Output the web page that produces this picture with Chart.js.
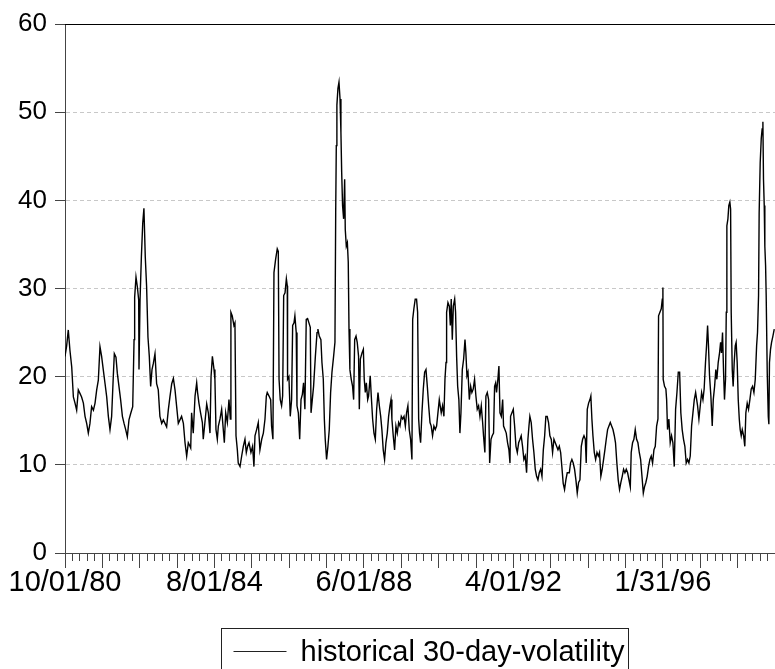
<!DOCTYPE html>
<html>
<head>
<meta charset="utf-8">
<script src="https://cdn.jsdelivr.net/npm/chart.js@4"></script>
<style>
  html, body { margin: 0; padding: 0; background: #fff; }
</style>
</head>
<body>
<canvas id="volChart" width="775" height="669"></canvas>
<script>
const obsNumber = [
  0, 11, 22, 33, 45, 56, 67, 78, 89, 100, 111, 123, 134, 145, 156, 167, 178, 190, 201, 212,
  223, 234, 245, 256, 268, 279, 290, 301, 312, 323, 330, 341, 350, 361, 372, 384, 395, 406, 417, 428,
  439, 453, 462, 466, 475, 484, 493, 495, 502, 511, 520, 528, 537, 546, 555, 564, 573, 582, 591, 602,
  613, 624, 635, 647, 658, 669, 680, 691, 702, 714, 725, 736, 747, 758, 769, 780, 792, 803, 814, 825, 836,
  841, 847, 858, 870, 881, 887, 896, 907, 919, 925, 936, 948, 959, 970, 977, 986, 997, 1003, 1010, 1019,
  1026, 1037, 1048, 1057, 1066, 1075, 1086, 1097, 1106, 1110, 1119, 1130, 1137, 1144, 1153, 1159, 1171, 1182, 1193, 1204,
  1213, 1222, 1231, 1244, 1255, 1264, 1271, 1282, 1293, 1304, 1316, 1327, 1338, 1347, 1353, 1365, 1376, 1382, 1391, 1398,
  1409, 1420, 1427, 1432, 1440, 1449, 1456, 1463, 1472, 1481, 1487, 1489, 1498, 1507, 1516, 1523, 1532, 1538, 1547, 1552,
  1561, 1570, 1579, 1588, 1596, 1605, 1614, 1623, 1632, 1641, 1646,
  1663, 1675, 1686, 1692, 1701, 1712, 1719, 1728, 1735, 1741, 1750, 1759, 1768, 1777, 1786, 1797, 1806, 1811, 1815, 1819,
  1826, 1833, 1840, 1846, 1851, 1857, 1864, 1871, 1875, 1882, 1889, 1895, 1900, 1906, 1915, 1924, 1931, 1938, 1947, 1955,
  1964, 1969, 1976, 1987, 1996, 2002, 2009, 2016, 2025, 2031, 2042, 2049, 2058, 2067, 2076, 2085, 2094, 2103, 2112, 2120,
  2129, 2138, 2147, 2156, 2165, 2174, 2181, 2187, 2196, 2205, 2214, 2223, 2232, 2241, 2250, 2259, 2268, 2277, 2285, 2294,
  2303, 2312, 2321, 2326, 2334, 2343, 2352, 2359, 2366, 2372, 2379, 2388, 2397, 2406, 2415, 2424, 2433, 2442, 2450, 2459,
  2468, 2477, 2486, 2495, 2504,
  2517, 2526, 2535, 2542, 2549, 2553, 2562, 2571, 2578, 2584, 2591, 2598, 2607, 2613, 2620, 2627, 2635, 2642, 2649, 2658,
  2667, 2676, 2682, 2689, 2696, 2705, 2714, 2722, 2731, 2740, 2749, 2758, 2767, 2776, 2785, 2794, 2800, 2809, 2816, 2825,
  2834, 2841, 2850, 2858, 2867, 2874, 2881, 2887, 2896, 2903, 2910, 2919, 2928, 2934, 2943, 2952, 2961, 2970, 2977, 2981,
  2990, 2999, 3008, 3017, 3026, 3035, 3044, 3052, 3061, 3070, 3079, 3088, 3097, 3104, 3110, 3119, 3128, 3137, 3146, 3155,
  3164, 3173, 3182, 3191, 3200, 3209, 3217, 3226, 3235, 3244, 3253, 3262, 3271, 3280, 3289, 3298, 3307, 3316, 3324, 3333,
  3342, 3351, 3360,
  3374, 3382, 3391, 3400, 3409, 3418, 3427, 3436, 3445, 3454, 3463, 3472, 3481, 3487, 3494, 3503, 3512, 3518, 3525, 3532,
  3541, 3550, 3559, 3568, 3576, 3585, 3594, 3603, 3612, 3621, 3630, 3639, 3648, 3657, 3666, 3675, 3683, 3692, 3701, 3710,
  3719, 3728, 3737, 3746, 3755, 3764, 3773, 3782, 3788, 3797, 3806, 3815, 3824, 3833, 3842, 3851, 3860, 3869, 3877, 3886,
  3895, 3904, 3913, 3922, 3931, 3940, 3949, 3958, 3967, 3971, 3980, 3989, 3996, 4000, 4002, 4011, 4020, 4025, 4031, 4040,
  4049, 4058, 4067, 4076, 4085, 4094, 4103, 4112, 4120, 4129, 4138, 4147, 4156, 4165, 4174, 4183, 4192, 4201, 4210, 4219,
  4232, 4241, 4250, 4259, 4268, 4276, 4285, 4292, 4299, 4305, 4312, 4321, 4330, 4337, 4346, 4354, 4361, 4370, 4379, 4386,
  4392, 4399, 4406, 4412, 4419, 4424, 4428, 4435, 4441, 4448, 4453, 4457, 4464, 4470, 4477, 4484, 4490, 4497, 4504, 4511,
  4517, 4524, 4531, 4540, 4548, 4555, 4564, 4573, 4582, 4591, 4600, 4609, 4618, 4627, 4633, 4640, 4644, 4651, 4658, 4664,
  4669, 4673, 4678, 4682, 4687, 4691, 4698, 4705, 4709, 4713, 4720, 4727, 4736, 4745
];

// historical 30-day volatility (%)
const volatility = [
  22.3, 23.5, 25.3, 23, 21.1, 17.7, 17, 16.2, 18.5, 18.1, 17.7, 17, 15.5, 14.7, 13.6, 14.7, 16.6, 16.2, 17, 18.5,
  19.6, 23.4, 22.3, 20.8, 19.2, 17.7, 15.5, 14, 15.5, 20, 22.6, 22.2, 20.4, 18.9, 17.4, 15.5, 14.7, 14, 13.2, 15.1,
  15.8, 16.6, 24.2, 29, 31.3, 30.2, 28.7, 20.8, 28.7, 33.6, 37.4, 39.1, 33.6, 30.2, 24.5, 22.3, 18.9, 20.8, 21.5, 22.6,
  19.2, 18.5, 15.5, 14.7, 15.1, 14.7, 14.3, 16.2, 17.7, 19.2, 19.8, 18.5, 16.6, 14.7, 15.1, 15.5, 14.7, 12.5, 11, 12.5, 12.1,
  11.9, 15.9, 13.6, 17.8, 19.3, 18.2, 17, 15.9, 14.8, 12.9, 14.8, 16.9, 15.9, 13.6, 20, 22.3, 20.8, 19.7, 14, 12.9,
  14.4, 15.2, 16.3, 14.4, 12.5, 15.9, 14.8, 17.4, 15.2, 27.3, 26.9, 25.8, 26.1, 13.3, 11.7, 10.2, 9.8, 11, 12.1, 12.9,
  11.4, 12.1, 12.5, 11.4, 12.1, 9.8, 13.3, 14, 14.8, 11.7, 12.9, 13.6, 15.2, 17.8, 18.2, 17.8, 17.4, 14.4, 12.9, 31.8,
  33.3, 34.5, 34.2, 19.7, 17.4, 16.7, 17.8, 29.2, 29.5, 31.1, 30.3, 19.7, 20, 15.5, 17.4, 25.8, 26.1, 26.9, 25, 16.7,
  15.9, 12.9, 17.4, 18, 19.3, 16.3, 26.5, 26.6, 26.1, 25.6, 15.9,
  18.9, 22.3, 25, 25.4, 24.6, 24.2, 21.6, 19.7, 15.2, 12.9, 10.6, 12.1, 14, 18.2, 20.5, 22.3, 23.9, 38.6, 46.2, 50.8,
  52.7, 53.4, 51.5, 47.7, 43.2, 39.4, 37.9, 42.4, 36.7, 34.8, 35.2, 33, 25.4, 20.8, 19.7, 18.9, 17.4, 24.2, 24.6, 23.9,
  22.3, 16.3, 22, 22.7, 23.1, 19.7, 18.2, 19.3, 17.4, 17.8, 20.1, 17.8, 15.2, 13.6, 12.9, 16.3, 18.2, 16.7, 15.5, 14,
  11.7, 10.6, 12.5, 13.6, 15.5, 16.7, 17.4, 15.2, 13.3, 11.7, 14.4, 13.6, 14.8, 14.4, 15.5, 15.2, 15.5, 14.4, 15.9, 16.7,
  14, 12.9, 10.6, 26.5, 27.7, 28.8, 28.8, 27.3, 15.2, 13.6, 12.5, 15.9, 18.6, 20.5, 20.8, 18.9, 16.7, 14.8, 14.4, 13.3,
  14.4, 14, 14.4, 15.9, 17.4,
  15.9, 16.7, 15.5, 19.7, 21.6, 27.3, 28.4, 28, 25.8, 28.8, 24.2, 28, 28.8, 27.3, 22.3, 18.9, 17.4, 13.6, 15.9, 20.8,
  22, 24.2, 22.7, 20.1, 20.5, 17.4, 18.9, 18.2, 18.6, 19.7, 17.8, 16.3, 16.7, 15.5, 16.7, 14.8, 13.3, 11.4, 17.8, 18.2,
  17.4, 10.2, 12.9, 13.3, 13.6, 18.9, 19.3, 18.2, 19.7, 21.2, 15.9, 15.5, 17.4, 14.4, 14, 13.6, 12.5, 11.7, 10.2, 15.5,
  15.9, 16.3, 14.4, 12.1, 11.4, 12.5, 12.9, 13.3, 12.1, 10.6, 11, 9.1, 12.9, 14.4, 15.5, 14.8, 12.9, 11.4, 9.5, 8.7,
  8.3, 9.1, 9.5, 8.7, 11.7, 13.3, 15.5, 15.5, 14.8, 13.3, 12.9, 11.4, 12.9, 12.5, 12.1, 11.7, 12.1, 11.4, 9.8, 7.9,
  7.2, 8.3, 9.1,
  9.1, 10.2, 10.6, 10.2, 9.5, 8.3, 6.8, 8, 8.3, 12.1, 12.9, 13.3, 12.9, 10.2, 16.3, 17, 17.4, 17.8, 15.2, 13.3,
  11.4, 10.6, 11.4, 11, 11.4, 8.7, 9.5, 10.6, 11.7, 12.9, 14, 14.4, 14.8, 14.4, 14, 13.3, 12.5, 10.2, 8.3, 7.2,
  8, 8.7, 9.5, 9.1, 9.5, 9.1, 8.3, 7.5, 11.4, 12.5, 12.9, 14, 12.9, 12.5, 11.4, 10.6, 8.7, 6.8, 7.5, 8,
  8.7, 9.8, 10.6, 11, 10.2, 11.7, 12.1, 14.4, 15.2, 26.9, 27.3, 27.7, 28.8, 30.1, 19.7, 18.9, 18.6, 17.4, 14, 15.2,
  12.5, 13.3, 12.5, 9.8, 16.3, 18.2, 20.5, 20.5, 15.9, 14, 12.9, 12.1, 10.2, 10.6, 10.2, 11, 14.4, 15.9, 17.4, 18.2,
  16.7, 15.2, 16.7, 18.2, 17.4, 18.6, 21.6, 23.5, 25.8, 23.5, 20.1, 17.8, 14.4, 17.4, 18.9, 20.8, 19.7, 21.6, 22.7, 23.9,
  22.7, 25, 20.5, 17.4, 19.7, 27.3, 37.1, 37.9, 39.4, 39.8, 39, 27.3, 20.8, 18.9, 21.6, 23.5, 23.9, 21.6, 17.4, 15.2,
  14, 13.3, 14, 13.3, 12.1, 15.9, 17, 16.3, 17.4, 18.6, 18.9, 18.2, 19.7, 23.5, 25, 29.2, 38.6, 44.3, 47, 48.1,
  48.9, 42.4, 39.4, 34.8, 32.6, 29.2, 20.5, 15.5, 14.6, 21.6, 23.1, 23.9, 24.6, 25.4
];

// dated tick labels, every 1000 observations
const labelObs = [0, 1000, 2000, 3000, 4000];
const labelText = ['10/01/80', '8/01/84', '6/01/88', '4/01/92', '1/31/96'];
const seriesName = 'historical 30-day-volatility';

const FONT = '"Liberation Sans", Arial, Helvetica, sans-serif';

// top edge of the frame and the boxed legend under the axis
const frameAndLegend = {
  id: 'frameAndLegend',
  afterDraw(chart) {
    const { ctx, chartArea } = chart;
    ctx.save();
    ctx.strokeStyle = '#000';
    ctx.lineWidth = 1;
    ctx.beginPath();
    ctx.moveTo(chartArea.left, chartArea.top + 0.5);
    ctx.lineTo(chartArea.right, chartArea.top + 0.5);
    ctx.stroke();

    ctx.font = '29px ' + FONT;
    const textW = ctx.measureText(seriesName).width;
    const boxW = Math.round(12 + 53 + 14 + textW + 4);
    const left = Math.round((chartArea.left + chartArea.right) / 2 - boxW / 2 + 4) + 0.5;
    const top = chartArea.bottom + 75.5;
    ctx.strokeStyle = '#222';
    ctx.strokeRect(left, top, boxW, 80);
    ctx.beginPath();
    ctx.moveTo(left + 12, top + 23);
    ctx.lineTo(left + 65, top + 23);
    ctx.stroke();
    ctx.fillStyle = '#000';
    ctx.textBaseline = 'alphabetic';
    ctx.fillText(seriesName, left + 79, top + 32);
    ctx.restore();
  }
};

new Chart(document.getElementById('volChart'), {
  type: 'line',
  data: {
    datasets: [{
      label: seriesName,
      data: obsNumber.map((x, i) => ({ x, y: volatility[i] })),
      borderColor: '#000',
      borderWidth: 1.4,
      pointRadius: 0,
      tension: 0,
      fill: false
    }]
  },
  options: {
    responsive: false,
    animation: false,
    layout: { padding: { top: 24, right: 0, bottom: 0, left: 0 } },
    plugins: {
      legend: { display: false },
      tooltip: { enabled: false }
    },
    scales: {
      x: {
        type: 'linear',
        min: 0,
        max: 4750,
        ticks: {
          stepSize: 50,
          autoSkip: false,
          includeBounds: false,
          maxRotation: 0,
          minRotation: 0,
          padding: 0,
          color: '#000',
          font: { family: FONT, size: 29, lineHeight: 1 },
          callback: v => {
            const k = labelObs.indexOf(v);
            return k >= 0 ? labelText[k] : '';
          }
        },
        grid: {
          drawOnChartArea: false,
          tickLength: 15,
          tickColor: '#444',
          tickBorderDash: c => (c.tick && c.tick.value % 250 === 0) ? [] : [7, 40]
        },
        border: { color: '#444', width: 1 },
        afterFit(scale) { scale.height = 116; }
      },
      y: {
        min: 0,
        max: 60,
        ticks: {
          stepSize: 10,
          padding: 8,
          color: '#000',
          font: { family: FONT, size: 26 }
        },
        grid: {
          color: c => (c.tick && c.tick.value > 0 && c.tick.value < 60) ? '#c8c8c8' : 'rgba(0,0,0,0)',
          tickColor: '#444',
          tickLength: 10
        },
        border: { color: '#444', width: 1, dash: [4, 3] },
        afterFit(scale) { scale.width = 65; }
      }
    }
  },
  plugins: [frameAndLegend]
});
</script>
</body>
</html>
